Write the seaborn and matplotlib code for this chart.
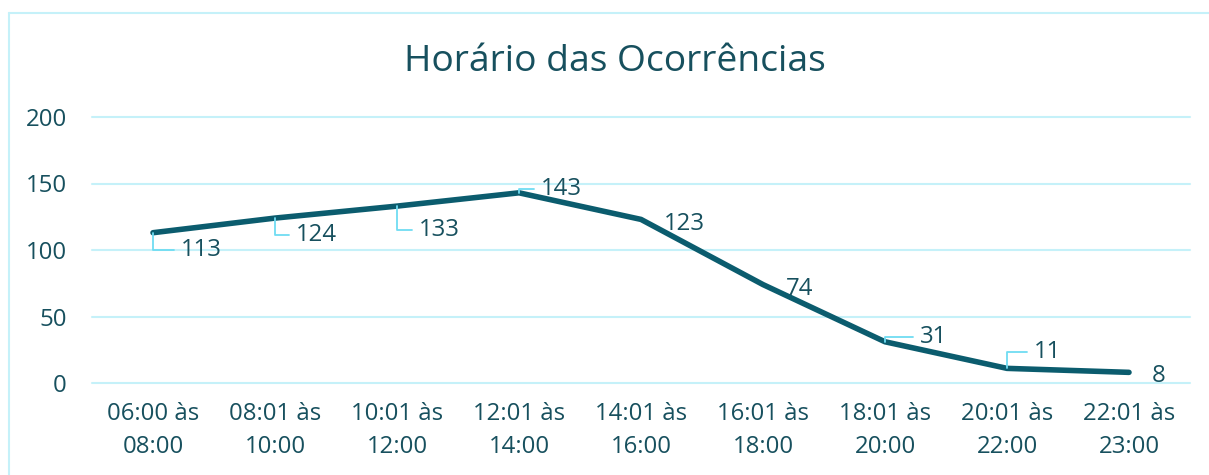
import matplotlib
matplotlib.use("Agg")
import matplotlib.pyplot as plt
import seaborn as sns
import pandas as pd
from matplotlib.lines import Line2D

categories = ["06:00 às\n08:00", "08:01 às\n10:00", "10:01 às\n12:00", "12:01 às\n14:00",
              "14:01 às\n16:00", "16:01 às\n18:00", "18:01 às\n20:00", "20:01 às\n22:00",
              "22:01 às\n23:00"]
values = [113, 124, 133, 143, 123, 74, 31, 11, 8]
y_ticks = [0, 50, 100, 150, 200]
title = "Horário das Ocorrências"

# label offsets (pixels) and whether a leader line is drawn
label_offsets = [(28, -17), (21, -17), (22, -24), (22, 4), (23, -5), (23, -4), (35, 5), (27, 16), (23, -4)]
label_leaders = [True, True, True, True, False, False, True, True, False]

sns.set_theme(style="white")
plt.rcParams['font.family'] = ['Open Sans', 'DejaVu Sans']

TEXT = "#17505e"
LINE = "#0b5c6e"
GRID = "#c5f1f9"
LEADER = "#6fdcf2"
FS = 17.3

W, H = 1209, 475
fig = plt.figure(figsize=(W / 100, H / 100), dpi=100)
ax = fig.add_axes([92 / W, 1 - 383 / H, (1190 - 92) / W, (383 - 117) / H])

df = pd.DataFrame({"cat": categories, "val": values, "x": range(len(categories))})
sns.lineplot(data=df, x="x", y="val", ax=ax, color=LINE, linewidth=4.0,
             solid_capstyle="round", solid_joinstyle="round", zorder=3)

ax.set_xlim(-0.5, len(categories) - 0.5)
ax.set_ylim(0, 200)
ax.set_yticks(y_ticks)
ax.set_yticklabels([str(t) for t in y_ticks])
ax.set_xticks(range(len(categories)))
ax.set_xticklabels(categories, linespacing=1.45)
ax.tick_params(axis="both", length=0, labelsize=FS, colors=TEXT)
ax.tick_params(axis="x", pad=14)
ax.tick_params(axis="y", pad=18)
ax.set_xlabel("")
ax.set_ylabel("")
ax.grid(axis="y", color=GRID, linewidth=1.5)
ax.grid(axis="x", visible=False)
for gl in ax.get_ygridlines():
    gl.set_clip_on(False)
for s in ax.spines.values():
    s.set_visible(False)
ax.set_axisbelow(True)

for i, v in enumerate(values):
    dx, dy = label_offsets[i]
    kw = {}
    if label_leaders[i]:
        kw["arrowprops"] = dict(arrowstyle="-", color=LEADER, lw=1.3,
                                connectionstyle="angle,angleA=0,angleB=90,rad=0",
                                shrinkA=3, shrinkB=0, relpos=(0, 0.5))
    ax.annotate(str(v), xy=(i, v), xytext=(dx, dy), textcoords="offset pixels",
                ha="left", va="center", fontsize=FS, color=TEXT, zorder=4, **kw)

fig.text(615 / W, 1 - 62 / H, title, ha="center", va="center", fontsize=26.8, color=TEXT)

top = 1 - 12.5 / H
left = 8.5 / W
fig.lines.append(Line2D([left, 1.01], [top, top], transform=fig.transFigure, color=GRID, linewidth=1.5))
fig.lines.append(Line2D([left, left], [-0.01, top], transform=fig.transFigure, color=GRID, linewidth=1.5))

fig.savefig("out.png", dpi=100)
